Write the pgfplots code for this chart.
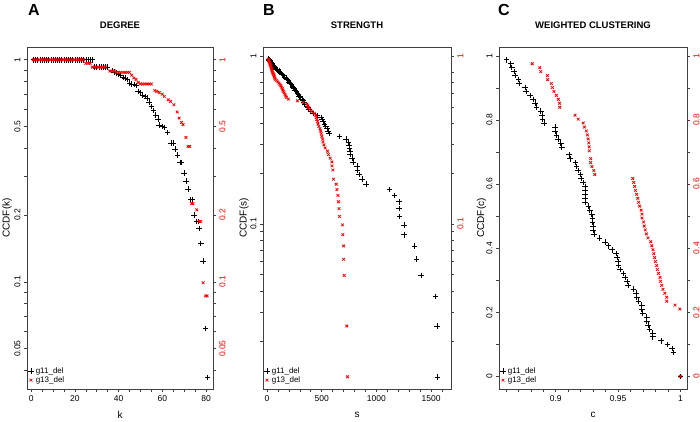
\documentclass[border=0pt]{standalone}
\usepackage{pgfplots}
\pgfplotsset{compat=1.18}
\usepackage{fontspec}
\setmainfont{Liberation Sans}

\definecolor{boxgray}{gray}{0.25}

\pgfplotsset{
  panel/.style={
    scale only axis, height=342pt,
    tick align=outside, major tick length=3pt, minor tick length=3pt,
    every tick/.style={boxgray, line width=0.5pt},
    axis line style={boxgray, line width=0.6pt},
    tick label style={font=\fontsize{8.5}{10}\selectfont},
    /pgf/number format/assume math mode=true,
    title style={font=\bfseries\fontsize{9.5}{11}\selectfont, at={(0.5,1)}, anchor=center, yshift=15.5pt},
    xlabel style={font=\fontsize{10}{12}\selectfont, at={([yshift=-26pt]axis description cs:0.5,0)}, anchor=center},
    ylabel style={font=\fontsize{10}{12}\selectfont, anchor=center},
  },
  leftax/.style={panel, tick pos=left,
    yticklabel style={rotate=90, anchor=south},
    legend style={at={(axis description cs:0,0)}, anchor=south west, draw=none, fill=none,
      font=\fontsize{8}{9}\selectfont, inner xsep=1pt, inner ysep=3pt, row sep=-2pt},
    legend cell align=left,
    legend image code/.code={\draw[##1] plot coordinates {(0.12cm,0cm)};},
  },
  rightax/.style={panel, axis x line=none, axis y line*=right, ytick pos=right,
    yticklabel style={rotate=90, anchor=north, text=red}},
  blk/.style={only marks, mark=+, mark size=2.8pt, black, mark options={line width=0.55pt}},
  rd/.style={only marks, mark=x, mark size=1.9pt, red, mark options={line width=0.8pt}},
}

\begin{document}
\begin{tikzpicture}
\path[use as bounding box] (0,0) rectangle (700pt,421pt);

% ---------------- A: degree
\begin{axis}[leftax, at={(27pt,32pt)}, anchor=south west, width=186pt,
  ymode=log, xmin=-1.9, xmax=83.2, ymin=0.0329, ymax=1.141,
  xtick={0,20,40,60,80}, xticklabels={0,20,40,60,80},
  minor xtick={5,10,15,25,30,35,45,50,55,65,70,75},
  ytick={0.05,0.1,0.2,0.5,1}, yticklabels={0.05,0.1,0.2,0.5,1},
  minor ytick={0.04,0.06,0.07,0.08,0.09,0.3,0.4,0.6,0.7,0.8,0.9},
  xlabel={k}, ylabel={CCDF(k)}, title={DEGREE},
  ylabel style={at={([xshift=-20pt]axis description cs:0,0.5)}}]
\addplot[blk] coordinates {
 (1,1)(2,1)(3,1)(4,1)(5,1)(6,1)(7,1)(8,1)(9,1)(10,1)(11,1)(12,1)(13,1)(14,1)
 (15,1)(16,1)(17,1)(18,1)(19,1)(20,1)(21,1)(22,1)(23,1)(24,1)(25,1)(26,1)(27,1)(28,1)
 (29,0.926)(30,0.926)(31,0.926)(32,0.926)(33,0.926)(34,0.926)(35,0.926)
 (37,0.895)(38,0.88)(39,0.871)(40,0.86)(41,0.852)(42,0.833)(43,0.825)(44,0.813)
 (45,0.785)(46,0.777)(47,0.772)(48,0.765)(49,0.72)(50,0.71)(51,0.69)(52,0.684)
 (53,0.672)(54,0.645)(55,0.616)(56,0.591)(57,0.565)(58,0.542)(58.6,0.508)(60,0.501)
 (61,0.496)(62.4,0.471)(63.9,0.421)(65,0.421)(65.8,0.396)(67,0.372)(68,0.345)
 (68.8,0.345)(69.9,0.309)(70.8,0.285)(71.7,0.262)(72.9,0.235)(73.7,0.235)(74.6,0.2)
 (75.7,0.187)(76.5,0.187)(76.9,0.174)(77.6,0.149)(78.7,0.124)(79.8,0.0617)(80.7,0.037)
};
\addplot[rd] coordinates {
 (1,1)(2,1)(3,1)(4,1)(5,1)(6,1)(7,1)(8,1)(9,1)(10,1)(11,1)(12,1)(13,1)(14,1)
 (15,1)(16,1)(17,1)(18,1)(19,1)(20,1)(21,1)(22,1)(23,1)(24,1)
 (25,0.963)(26,0.963)(27,0.963)
 (28,0.926)(29,0.926)(30,0.926)(31,0.926)(32,0.926)(33,0.926)(34,0.926)
 (36,0.889)(37,0.889)(38,0.889)(39,0.877)(40,0.877)(41,0.877)(42,0.877)(43,0.877)
 (44,0.877)(45,0.877)(46,0.852)(47,0.827)(48,0.815)(49,0.79)(50,0.778)(51,0.778)
 (52,0.778)(53,0.778)(54,0.778)(55,0.778)(56.6,0.727)(57.5,0.72)(58.6,0.712)(60,0.70)
 (60.9,0.684)(62.7,0.66)(63.8,0.649)(65.3,0.627)(66.8,0.582)(67.7,0.546)(68.8,0.522)
 (69.5,0.51)(70.8,0.447)(71.8,0.407)(72.5,0.407)(73.4,0.225)(74,0.225)(75.8,0.211)
 (76.9,0.187)(77.5,0.187)(78.7,0.099)(79.8,0.0864)(80.5,0.0864)
};
\legend{g11\_del,g13\_del}
\end{axis}
\begin{axis}[rightax, at={(27pt,32pt)}, anchor=south west, width=186pt,
  ymode=log, xmin=-1.9, xmax=83.2, ymin=0.0329, ymax=1.141,
  ytick={0.05,0.1,0.2,0.5,1}, yticklabels={0.05,0.1,0.2,0.5,1},
  minor ytick={0.04,0.06,0.07,0.08,0.09,0.3,0.4,0.6,0.7,0.8,0.9}]
\addplot[draw=none] coordinates {(10,0.5)};
\end{axis}

% ---------------- B: strength
\begin{axis}[leftax, at={(263pt,32pt)}, anchor=south west, width=188pt,
  ymode=log, xmin=-36, xmax=1681, ymin=0.0104, ymax=1.135,
  xtick={0,500,1000,1500}, xticklabels={0,500,1000,1500},
  minor xtick={100,200,300,400,600,700,800,900,1100,1200,1300,1400,1600},
  ytick={0.1,1}, yticklabels={0.1,1},
  minor ytick={0.02,0.03,0.04,0.05,0.06,0.07,0.08,0.09,0.2,0.3,0.4,0.5,0.6,0.7,0.8},
  xlabel={s}, ylabel={CCDF(s)}, title={STRENGTH},
  ylabel style={at={([xshift=-19pt]axis description cs:0,0.5)}}]
\addplot[blk] coordinates {
 (15,0.9630)(21,0.9506)(30,0.9383)(40,0.9259)(45,0.9136)(50,0.9012)(55,0.8889)
 (60,0.8765)(68,0.8642)(75,0.8519)(82,0.8395)(95,0.8272)(110,0.8148)(120,0.8025)
 (130,0.7901)(140,0.7778)(150,0.7654)(162,0.7531)(179,0.7407)(188,0.7284)(196,0.7160)
 (202,0.7037)(212,0.6914)(224,0.6790)(232,0.6667)(240,0.6543)(246,0.6420)(258,0.6296)
 (270,0.6173)(280,0.6049)(287,0.5926)(293,0.5802)(305,0.5679)(320,0.5556)(330,0.5432)
 (337,0.5309)(342,0.5185)(365,0.5062)(374,0.4938)(382,0.4815)(398,0.4691)(420,0.4568)
 (462,0.4444)(492,0.4321)(505,0.4198)(514,0.4074)(525,0.3951)(537,0.3827)(550,0.3704)
 (559,0.3580)(566,0.3457)(664,0.3333)(720,0.3210)(745,0.3086)(750,0.2963)(755,0.2840)
 (757,0.2716)(760,0.2593)(776,0.2469)(785,0.2346)(821,0.2222)(827,0.2099)(843,0.1975)
 (867,0.1852)(907,0.1728)(1119,0.1605)(1165,0.1481)(1205,0.1358)(1208,0.1235)
 (1211,0.1111)(1251,0.0988)(1251,0.0864)(1348,0.0741)(1366,0.0617)(1409,0.0494)
 (1539,0.0370)(1552,0.0247)(1557,0.0123)
};
\addplot[rd] coordinates {
 (12,0.9630)(15,0.9506)(18,0.9383)(20,0.9259)(24,0.9136)(27,0.9012)(30,0.8889)
 (34,0.8765)(37,0.8642)(39,0.8519)(42,0.8395)(45,0.8272)(48,0.8148)(51,0.8025)
 (56,0.7901)(61,0.7778)(65,0.7654)(68,0.7531)(71,0.7407)(76,0.7284)(88,0.7160)
 (100,0.7037)(110,0.6914)(118,0.6790)(126,0.6667)(133,0.6543)(140,0.6420)(145,0.6296)
 (150,0.6173)(158,0.6049)(165,0.5926)(172,0.5802)(178,0.5679)(195,0.5556)(279,0.5432)
 (330,0.5309)(365,0.5185)(372,0.5062)(378,0.4938)(390,0.4815)(408,0.4691)(432,0.4568)
 (446,0.4444)(450,0.4321)(455,0.4198)(462,0.4074)(467,0.3951)(474,0.3827)(484,0.3704)
 (490,0.3580)(496,0.3457)(501,0.3333)(508,0.3210)(512,0.3086)(520,0.2963)(532,0.2840)
 (553,0.2716)(562,0.2593)(578,0.2469)(593,0.2346)(594,0.2222)(602,0.2099)(608,0.1852)
 (633,0.1728)(639,0.1605)(648,0.1481)(654,0.1358)(658,0.1235)(663,0.1111)(690,0.0988)
 (693,0.0864)(700,0.0741)(700,0.0617)(705,0.0494)(729,0.0247)(736,0.0123)
};
\legend{g11\_del,g13\_del}
\end{axis}
\begin{axis}[rightax, at={(263pt,32pt)}, anchor=south west, width=188pt,
  ymode=log, xmin=-36, xmax=1681, ymin=0.0104, ymax=1.135,
  ytick={0.1,1}, yticklabels={0.1,1},
  minor ytick={0.02,0.03,0.04,0.05,0.06,0.07,0.08,0.09,0.2,0.3,0.4,0.5,0.6,0.7,0.8}]
\addplot[draw=none] coordinates {(100,0.5)};
\end{axis}

% ---------------- C: weighted clustering
\begin{axis}[leftax, at={(499pt,32pt)}, anchor=south west, width=188pt,
  xmin=0.8545, xmax=1.0053, ymin=-0.0395, ymax=1.0275,
  xtick={0.9,0.95,1}, xticklabels={0.9,0.95,1},
  minor xtick={0.86,0.87,0.88,0.89,0.91,0.92,0.93,0.94,0.96,0.97,0.98,0.99},
  ytick={0,0.2,0.4,0.6,0.8,1}, yticklabels={0,0.2,0.4,0.6,0.8,1},
  minor ytick={0.1,0.3,0.5,0.7,0.9},
  xlabel={c}, ylabel={CCDF(c)}, title={WEIGHTED CLUSTERING},
  ylabel style={at={([xshift=-17.5pt]axis description cs:0,0.5)}}]
\addplot[blk] coordinates {
 (0.8604,0.9877)(0.8639,0.9753)(0.8647,0.9630)(0.8665,0.9506)(0.8673,0.9383)
 (0.8700,0.9259)(0.8705,0.9136)(0.8754,0.9012)(0.8760,0.8889)(0.8794,0.8765)
 (0.8820,0.8642)(0.8834,0.8519)(0.8845,0.8395)(0.8880,0.8272)(0.8892,0.8148)
 (0.8893,0.8025)(0.8906,0.7901)(0.8994,0.7778)(0.8995,0.7654)(0.9005,0.7531)
 (0.9020,0.7407)(0.9040,0.7284)(0.9048,0.7160)(0.9107,0.6914)(0.9115,0.6790)
 (0.9160,0.6667)(0.9165,0.6543)(0.9179,0.6420)(0.9200,0.6296)(0.9205,0.6173)
 (0.9219,0.6049)(0.9235,0.5926)(0.9235,0.5802)(0.9235,0.5679)(0.9235,0.5556)
 (0.9235,0.5432)(0.9262,0.5309)(0.9273,0.5185)(0.9289,0.5062)(0.9294,0.4938)
 (0.9296,0.4815)(0.9300,0.4691)(0.9300,0.4568)(0.9307,0.4444)(0.9352,0.4321)
 (0.9396,0.4198)(0.9422,0.4074)(0.9450,0.3951)(0.9484,0.3827)(0.9490,0.3704)
 (0.9500,0.3580)(0.9505,0.3457)(0.9516,0.3333)(0.9543,0.3210)(0.9556,0.3086)
 (0.9570,0.2963)(0.9578,0.2840)(0.9623,0.2716)(0.9644,0.2593)(0.9650,0.2469)
 (0.9663,0.2346)(0.9690,0.2222)(0.9690,0.2099)(0.9698,0.1975)(0.9730,0.1852)
 (0.9730,0.1728)(0.9740,0.1605)(0.9751,0.1481)(0.9778,0.1358)(0.9778,0.1235)
 (0.9845,0.1111)(0.9896,0.0988)(0.9931,0.0864)(0.9944,0.0741)(1.0,0)
};
\addplot[rd] coordinates {
 (0.8812,0.9753)(0.8872,0.9630)(0.8880,0.9506)(0.8933,0.9383)(0.8935,0.9259)
 (0.8965,0.9136)(0.8973,0.9012)(0.8986,0.8889)(0.9005,0.8765)(0.9021,0.8642)
 (0.9030,0.8519)(0.9032,0.8395)(0.9155,0.8148)(0.9181,0.8025)(0.9220,0.7901)
 (0.9230,0.7778)(0.9246,0.7654)(0.9254,0.7531)(0.9260,0.7407)(0.9265,0.7284)
 (0.9268,0.7160)(0.9270,0.7037)(0.9280,0.6790)(0.9280,0.6667)(0.9290,0.6543)
 (0.9305,0.6420)(0.9313,0.6296)(0.9618,0.6173)(0.9625,0.6049)(0.9633,0.5926)
 (0.9640,0.5802)(0.9648,0.5679)(0.9658,0.5556)(0.9665,0.5432)(0.9673,0.5309)
 (0.9685,0.5185)(0.9692,0.5062)(0.9692,0.4938)(0.9705,0.4815)(0.9710,0.4691)
 (0.9718,0.4568)(0.9727,0.4444)(0.9740,0.4321)(0.9762,0.4198)(0.9770,0.4074)
 (0.9780,0.3951)(0.9787,0.3827)(0.9793,0.3704)(0.9800,0.3580)(0.9810,0.3457)
 (0.9815,0.3333)(0.9825,0.3210)(0.9837,0.3086)(0.9840,0.2963)(0.9850,0.2840)
 (0.9860,0.2716)(0.9875,0.2593)(0.9890,0.2469)(0.9890,0.2346)(0.9957,0.2222)
 (0.9995,0.2099)(1.0,0)
};
\legend{g11\_del,g13\_del}
\end{axis}
\begin{axis}[rightax, at={(499pt,32pt)}, anchor=south west, width=188pt,
  xmin=0.8545, xmax=1.0053, ymin=-0.0395, ymax=1.0275,
  ytick={0,0.2,0.4,0.6,0.8,1}, yticklabels={0,0.2,0.4,0.6,0.8,1},
  minor ytick={0.1,0.3,0.5,0.7,0.9}]
\addplot[draw=none] coordinates {(0.9,0.5)};
\end{axis}

% panel letters
\node[font=\bfseries\fontsize{16}{18}\selectfont, anchor=base west, inner sep=0pt] at (28pt,405.3pt) {A};
\node[font=\bfseries\fontsize{16}{18}\selectfont, anchor=base west, inner sep=0pt] at (263pt,405.3pt) {B};
\node[font=\bfseries\fontsize{16}{18}\selectfont, anchor=base west, inner sep=0pt] at (498pt,405.3pt) {C};
\end{tikzpicture}
\end{document}
